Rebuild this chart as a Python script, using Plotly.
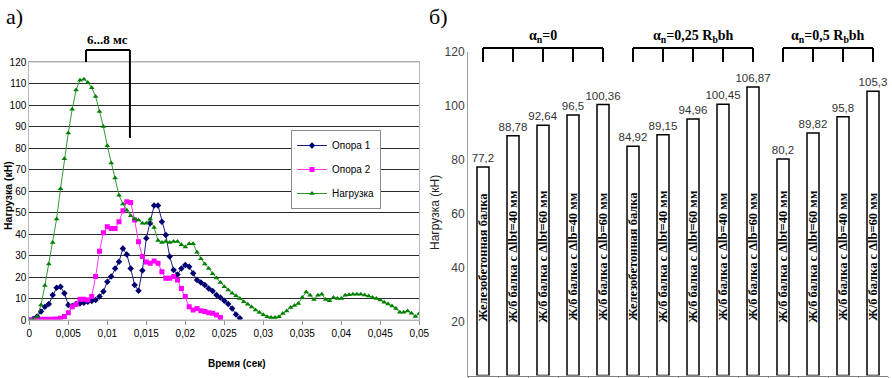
import plotly.graph_objects as go

# ---------------- data: panel a) ----------------
time_step_s = 0.0005
load_kN = [0, 0, 1.5, 7, 16, 26, 36, 47, 61, 75,
           87, 98, 107, 111.5, 112, 110.5, 108, 104, 97, 90,
           81, 73, 66, 58, 54, 51, 48.5, 47, 46.5, 45,
           45, 47, 43, 37, 36, 36.5, 36, 36.5, 36.5, 35,
           34, 35.5, 35.5, 31.5, 28.5, 26, 24, 21.5, 19.5, 17.5,
           15.5, 14, 12.5, 11.3, 10, 8.5, 7.3, 6, 4.7, 3.5,
           2.5, 1.5, 1.2, 1.2, 1.5, 3, 4.2, 5.8, 6.8, 7.7,
           10.5, 13, 11.5, 9.5, 11.5, 12, 9.5, 9, 10.5, 10,
           10, 11.5, 11.8, 12, 12, 12, 11.6, 11.2, 10.5, 10,
           9.3, 8.2, 7.4, 6.5, 5.4, 3.6, 3.6, 4.2, 3.1, 1.6,
           3]
support1_kN = [0, 0.5, 1.6, 3.9, 6.2, 7.4, 11.6, 15, 15.5, 12.4,
               7, 6.5, 7.4, 7.7, 8, 8.5, 8.8, 9.3, 10.9, 13.2,
               17.8, 20.2, 24, 27.1, 33.3, 30.5, 24, 16.3, 13.6, 23,
               38, 45, 53.2, 53.2, 45.7, 39.5, 29.5, 23.3, 21.2, 24,
               25.6, 24.8, 21.7, 18.6, 17.4, 16.3, 14.7, 13.5, 11.6, 10.5,
               9, 7.4, 5.4, 2.6, 0.8]
support2_kN = [0, 0, 0, 0.3, 0.3, 0.3, 0.3, 0.5, 0.8, 1.6,
               3.4, 6.2, 7.3, 9.6, 9.6, 9.3, 10.9, 20.2, 32, 40.6,
               43.4, 42.6, 42.6, 45.7, 50.8, 55, 54.6, 46.5, 36.4, 29.5,
               27, 26.4, 27.4, 26.4, 22.5, 19.4, 19.4, 20.2, 18.6, 14.7,
               10.9, 6.2, 4.7, 5.4, 4.3, 3.9, 3.4, 3.1, 2.3, 1.2]
series_names = ["Опора 1", "Опора 2", "Нагрузка"]
time_ticks = [0, 0.005, 0.01, 0.015, 0.02, 0.025, 0.03, 0.035, 0.04, 0.045, 0.05]
time_tick_labels = ["0", "0,005", "0,01", "0,015", "0,02", "0,025", "0,03", "0,035", "0,04", "0,045", "0,05"]
pulse_window_s = (0.00727, 0.0129)   # "6...8 мс" bracket

# ---------------- data: panel б) ----------------
beam_labels = [
    "Железобетонная балка", "Ж/б балка с Δlbt=40 мм", "Ж/б балка с Δlbt=60 мм",
    "Ж/б балка с Δlb=40 мм", "Ж/б балка с Δlb=60 мм",
    "Железобетонная балка", "Ж/б балка с Δlbt=40 мм", "Ж/б балка с Δlbt=60 мм",
    "Ж/б балка с Δlb=40 мм", "Ж/б балка с Δlb=60 мм",
    "Ж/б балка с Δlbt=40 мм", "Ж/б балка с Δlbt=60 мм",
    "Ж/б балка с Δlb=40 мм", "Ж/б балка с Δlb=60 мм",
]
beam_loads = [77.2, 88.78, 92.64, 96.5, 100.36,
              84.92, 89.15, 94.96, 100.45, 106.87,
              80.2, 89.82, 95.8, 105.3]
group_titles = ["α<sub>n</sub>=0", "α<sub>n</sub>=0,25 R<sub>b</sub>bh", "α<sub>n</sub>=0,5 R<sub>b</sub>bh"]
group_sizes = [5, 5, 4]

# ---------------- layout geometry ----------------
W, H = 892, 378
LXD = [29.3 / W, 419.3 / W]
LYD = [1 - 320 / H, 1 - 62 / H]
RXD = [468 / W, 888 / W]
RYD = [1 - 375.5 / H, 1 - 51.5 / H]
LXR = [0, 0.05]
LYR = [0, 120]
RXR = [-0.5, len(beam_loads) - 0.5]
RYR = [0, 120]


def to_paper(v, rng, dom):
    return dom[0] + (v - rng[0]) / (rng[1] - rng[0]) * (dom[1] - dom[0])


SANS = "Liberation Sans, Arial, sans-serif"
SERIF = "Liberation Serif, Times New Roman, serif"

fig = go.Figure()

t1 = [i * time_step_s for i in range(len(support1_kN))]
t2 = [i * time_step_s for i in range(len(support2_kN))]
t3 = [i * time_step_s for i in range(len(load_kN))]

fig.add_trace(go.Scatter(x=t1, y=support1_kN, name=series_names[0], mode="lines+markers",
                         line=dict(color="#1a1a80", width=1),
                         marker=dict(symbol="diamond", size=5, color="#000070"),
                         legendgroup="a", xaxis="x", yaxis="y"))
fig.add_trace(go.Scatter(x=t2, y=support2_kN, name=series_names[1], mode="lines+markers",
                         line=dict(color="#ff33ff", width=1),
                         marker=dict(symbol="square", size=5, color="#ff00ff"),
                         legendgroup="b", xaxis="x", yaxis="y"))
fig.add_trace(go.Scatter(x=t3, y=load_kN, name=series_names[2], mode="lines+markers",
                         line=dict(color="#339933", width=1),
                         marker=dict(symbol="triangle-up", size=5, color="#008000"),
                         legendgroup="c", xaxis="x", yaxis="y"))

value_text = [str(v).replace(".", ",") for v in beam_loads]
fig.add_trace(go.Bar(x=list(range(len(beam_loads))), y=beam_loads, width=0.4,
                     marker=dict(color="white", line=dict(color="black", width=1.5)),
                     text=value_text, textposition="outside", constraintext="none",
                     textfont=dict(family=SANS, size=11.5, color="#333333"),
                     cliponaxis=False, showlegend=False, xaxis="x2", yaxis="y2"))

shapes = []
annotations = []

# light frame lines on panel a) (top and bottom edges)
for yv in (0, 120):
    yp = to_paper(yv, LYR, LYD)
    shapes.append(dict(type="line", xref="paper", yref="paper", x0=LXD[0], x1=LXD[1], y0=yp, y1=yp,
                       line=dict(color="#b4b4b4", width=1), layer="above"))

# labels inside bars
for i, lab in enumerate(beam_labels):
    annotations.append(dict(x=i, y=44, xref="x2", yref="y2", text="<b>" + lab + "</b>", textangle=-90,
                            showarrow=False, xanchor="center", yanchor="middle",
                            font=dict(family=SERIF, size=12.5, color="black")))

# group brackets
bh = to_paper(121.3, RYR, RYD)
bl = to_paper(116.1, RYR, RYD)
start = 0
for title, n in zip(group_titles, group_sizes):
    idx = list(range(start, start + n))
    x0 = to_paper(idx[0], RXR, RXD)
    x1 = to_paper(idx[-1], RXR, RXD)
    shapes.append(dict(type="line", xref="paper", yref="paper", x0=x0, x1=x1, y0=bh, y1=bh,
                       line=dict(color="black", width=2)))
    for k in idx:
        xp = to_paper(k, RXR, RXD)
        shapes.append(dict(type="line", xref="paper", yref="paper", x0=xp, x1=xp, y0=bh, y1=bl,
                           line=dict(color="black", width=2)))
    annotations.append(dict(x=(x0 + x1) / 2, y=bh, xref="paper", yref="paper", text="<b>" + title + "</b>",
                            showarrow=False, xanchor="center", yanchor="bottom", yshift=1,
                            font=dict(family=SERIF, size=14, color="black")))
    start += n

# "6...8 мс" bracket on panel a)
ya = to_paper(125.6, LYR, LYD)
yb = to_paper(120, LYR, LYD)
yc = to_paper(84.7, LYR, LYD)
xa = to_paper(pulse_window_s[0], LXR, LXD)
xb = to_paper(pulse_window_s[1], LXR, LXD)
shapes += [
    dict(type="line", xref="paper", yref="paper", x0=xa, x1=xb, y0=ya, y1=ya, line=dict(color="black", width=2)),
    dict(type="line", xref="paper", yref="paper", x0=xa, x1=xa, y0=ya, y1=yb, line=dict(color="black", width=2)),
    dict(type="line", xref="paper", yref="paper", x0=xb, x1=xb, y0=ya, y1=yc, line=dict(color="black", width=2)),
]
annotations.append(dict(x=(xa + xb) / 2, y=ya, xref="paper", yref="paper", text="<b>6...8 мс</b>",
                        showarrow=False, xanchor="center", yanchor="bottom", yshift=1,
                        font=dict(family=SERIF, size=13, color="black")))

# panel letters and axis titles
annotations += [
    dict(x=4 / W, y=1 - 16 / H, xref="paper", yref="paper", text="а)", showarrow=False,
         xanchor="left", yanchor="middle", font=dict(family=SERIF, size=22, color="black")),
    dict(x=427 / W, y=1 - 16 / H, xref="paper", yref="paper", text="б)", showarrow=False,
         xanchor="left", yanchor="middle", font=dict(family=SERIF, size=22, color="black")),
    dict(x=8 / W, y=1 - 196 / H, xref="paper", yref="paper", text="<b>Нагрузка (кН)</b>", textangle=-90,
         showarrow=False, xanchor="center", yanchor="middle", font=dict(family=SANS, size=10.5, color="black")),
    dict(x=237 / W, y=1 - 363 / H, xref="paper", yref="paper", text="<b>Время (сек)</b>",
         showarrow=False, xanchor="center", yanchor="middle", font=dict(family=SANS, size=10, color="black")),
    dict(x=435 / W, y=1 - 213 / H, xref="paper", yref="paper", text="Нагрузка (кН)", textangle=-90,
         showarrow=False, xanchor="center", yanchor="middle", font=dict(family=SANS, size=12, color="#222222")),
]

fig.update_layout(
    width=W, height=H,
    margin=dict(l=0, r=0, t=0, b=0, autoexpand=False),
    paper_bgcolor="white", plot_bgcolor="white",
    showlegend=True,
    legend=dict(x=291 / W, y=1 - 130 / H, xanchor="left", yanchor="top",
                bgcolor="white", bordercolor="#8c8c8c", borderwidth=1,
                font=dict(family=SANS, size=10, color="black"),
                itemwidth=30, tracegroupgap=5),
    xaxis=dict(domain=LXD, range=LXR, tickvals=time_ticks, ticktext=time_tick_labels,
               tickfont=dict(family=SANS, size=10, color="black"), automargin=False,
               showgrid=False, zeroline=False, showline=True, linecolor="#b0b0b0", mirror=True,
               ticks="outside", ticklen=4, tickcolor="#909090", anchor="y"),
    yaxis=dict(domain=LYD, range=LYR, dtick=10, tickfont=dict(family=SANS, size=10, color="black"),
               showgrid=True, gridcolor="#2a2a2a", gridwidth=1, zeroline=False, automargin=False,
               showline=True, linecolor="#b8b8b8", mirror=True, ticks="", anchor="x"),
    xaxis2=dict(domain=RXD, range=RXR, automargin=False,
                tickvals=[k - 0.5 for k in range(len(beam_loads) + 1)], showticklabels=False,
                showgrid=False, zeroline=False, showline=True, linecolor="#808080",
                ticks="outside", ticklen=5, tickcolor="#808080", anchor="y2"),
    yaxis2=dict(domain=RYD, range=RYR, dtick=20, tickfont=dict(family=SANS, size=12, color="#404040"),
                automargin=False,
                showgrid=False, zeroline=False, showline=True, linecolor="#a0a0a0", ticks="", anchor="x2"),
    shapes=shapes, annotations=annotations,
)

# remove the browser's default 8px page margin so the figure sits at the window origin
fig.write_html("out.html", config={"displayModeBar": False},
               post_script="document.body.style.margin='0';")
